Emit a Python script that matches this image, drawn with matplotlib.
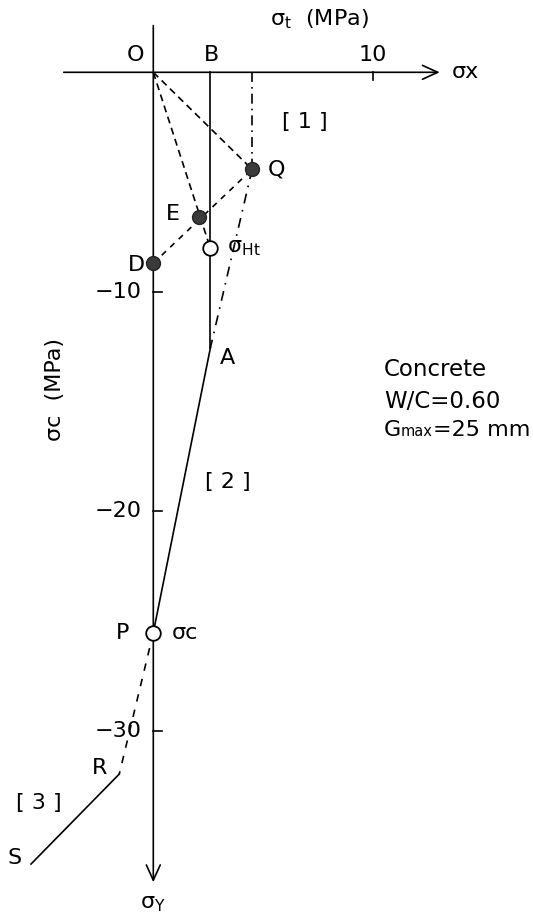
import matplotlib
matplotlib.use("Agg")
import matplotlib.pyplot as plt

plt.rcParams['font.family'] = ['DejaVu Sans']
plt.rcParams['mathtext.fontset'] = 'dejavusans'

# ---- data (MPa) ----
point_names = ['O', 'B', 'Q', 'E', 'Ht', 'D', 'A', 'P', 'R', 'S']
point_x = [0.0, 2.6, 4.5, 2.1, 2.6, 0.0, 2.6, 0.0, -1.55, -5.57]
point_y = [0.0, 0.0, -4.42, -6.61, -8.02, -8.70, -12.56, -25.53, -31.97, -36.07]

filled_points = ['Q', 'E', 'D']
open_points = ['Ht', 'P']

x_ticks = [10]
x_tick_labels = ['10']
y_ticks = [-10, -20, -30]
y_tick_labels = ['\u221210', '\u221220', '\u221230']

x_axis_range = [-4.08, 13.05]
y_axis_range = [2.13, -36.9]

P = {n: (x, y) for n, x, y in zip(point_names, point_x, point_y)}

# ---- figure ----
W, H, DPI = 533, 915, 100
fig = plt.figure(figsize=(W / DPI, H / DPI), dpi=DPI)
ax = fig.add_axes([0, 0, 1, 1])
s = 21.95
ox, oy = 153.3, 72.3
ax.set_xlim(-ox / s, (W - ox) / s)
ax.set_ylim(-(H - oy) / s, oy / s)
ax.axis('off')

lw = 1.2
k = 'black'

# axes with open arrowheads
arrow = dict(arrowstyle='->,head_length=0.55,head_width=0.25', lw=lw, color=k,
             shrinkA=0, shrinkB=0, mutation_scale=20)
ax.annotate('', xy=(x_axis_range[1], 0), xytext=(x_axis_range[0], 0), arrowprops=arrow)
ax.annotate('', xy=(0, y_axis_range[1]), xytext=(0, y_axis_range[0]), arrowprops=arrow)

# ticks
for t in x_ticks:
    ax.plot([t, t], [0, -0.36], color=k, lw=lw)
for t in y_ticks:
    ax.plot([0, 0.4], [t, t], color=k, lw=lw)


def seg(a, b, **kw):
    ax.plot([P[a][0], P[b][0]], [P[a][1], P[b][1]], **kw)


# solid lines
seg('B', 'A', color=k, lw=lw)
seg('A', 'P', color=k, lw=lw)
seg('R', 'S', color=k, lw=lw)
# dashed lines
seg('O', 'Q', color=k, lw=lw, ls=(0, (4.2, 2.8)))
seg('O', 'Ht', color=k, lw=lw, ls=(0, (4.2, 2.8)))
seg('D', 'Q', color=k, lw=lw, ls=(0, (3.5, 3.5)))
seg('P', 'R', color=k, lw=lw, ls=(0, (4.5, 5)))
# dash-dot lines
ax.plot([P['Q'][0], P['Q'][0]], [0, P['Q'][1]], color=k, lw=lw, ls=(0, (6, 3, 1, 3)))
seg('Q', 'A', color=k, lw=lw, ls=(0, (6, 4, 1, 4)))

# markers
for n in filled_points:
    ax.plot(*P[n], 'o', ms=10, mfc='#3a3a3a', mec='#222222', mew=1.0, zorder=5)
for n in open_points:
    ax.plot(*P[n], 'o', ms=10.5, mfc='white', mec=k, mew=1.3, zorder=5)

fs = 16
T = dict(fontsize=fs, color=k, va='center')

# tick labels
for t, lab in zip(x_ticks, x_tick_labels):
    ax.text(t, 0.78, lab, ha='center', **T)
for t, lab in zip(y_ticks, y_tick_labels):
    ax.text(-0.55, t, lab, ha='right', **T)

# axis labels
ax.text(5.3, 2.44, 'σ$_\\mathrm{t}$  (MPa)', ha='left', **T)
ax.text(13.6, 0.0, 'σx', ha='left', **T)
ax.text(0.0, -37.9, 'σ$_\\mathrm{Y}$', ha='center', **T)
ax.text(-4.48, -14.47, 'σc  (MPa)', ha='center', rotation=90, **T)

# point labels
ax.text(-0.83, 0.78, 'O', ha='center', **T)
ax.text(2.63, 0.78, 'B', ha='center', **T)
ax.text(5.6, -4.45, 'Q', ha='center', **T)
ax.text(0.88, -6.46, 'E', ha='center', **T)
ax.text(3.37, -8.02, 'σ$_\\mathrm{Ht}$', ha='left', **T)
ax.text(-0.76, -8.78, 'D', ha='center', **T)
ax.text(3.37, -13.03, 'A', ha='center', **T)
ax.text(-1.4, -25.53, 'P', ha='center', **T)
ax.text(0.85, -25.53, 'σc', ha='left', **T)
ax.text(-2.43, -31.7, 'R', ha='center', **T)
ax.text(-6.3, -35.8, 'S', ha='center', **T)

# region labels
ax.text(6.9, -2.28, '[ 1 ]', ha='center', **T)
ax.text(3.4, -18.65, '[ 2 ]', ha='center', **T)
ax.text(-5.2, -33.3, '[ 3 ]', ha='center', **T)

# material note
N = dict(color=k, va='center', ha='left')
ax.text(10.5, -13.56, 'Concrete', fontsize=16.5, **N)
ax.text(10.5, -15.0, 'W/C=0.60', fontsize=16.5, **N)
yb = -16.57
g1 = ax.text(10.5, yb, 'G', fontsize=16, color=k, va='baseline', ha='left')
g2 = ax.annotate('max', xy=(1, yb), xycoords=(g1, 'data'), fontsize=10.5,
                 color=k, va='baseline', ha='left')
ax.annotate('=25 mm', xy=(1, yb), xycoords=(g2, 'data'), fontsize=16,
            color=k, va='baseline', ha='left')

fig.savefig('out.png', dpi=DPI)
